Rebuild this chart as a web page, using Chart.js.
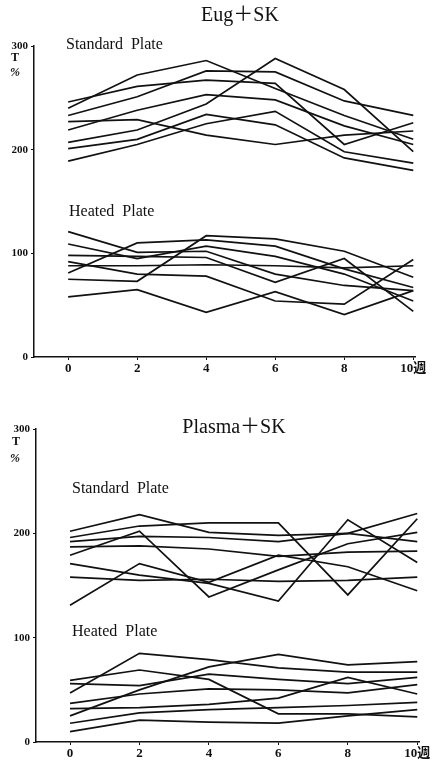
<!doctype html>
<html lang="ja">
    <head>
        <meta charset="UTF-8" />
        <meta name="viewport" content="width=device-width, initial-scale=1.0" />
        <title>Eug+SK / Plasma+SK</title>
        <script src="https://cdn.jsdelivr.net/npm/chart.js"></script>
        <style>
            body {
                margin: 0;
                background: #fff;
            }
            .panel {
                position: absolute;
                left: 0;
                width: 437px;
                height: 380px;
            }
            #top {
                top: 0;
            }
            #bottom {
                top: 380px;
            }
        </style>
    </head>
    <body>
        <div class="panel" id="top">
            <canvas id="eugChart" width="437" height="380"></canvas>
        </div>
        <div class="panel" id="bottom">
            <canvas id="plasmaChart" width="437" height="380"></canvas>
        </div>

        <script>
            const weeks = [0, 2, 4, 6, 8, 10];
            const yTicks = [0, 100, 200, 300];

            // T% per week, one row per sample
            const eugStandard = [
                [240, 272, 286, 259, 233, 210],
                [246, 261, 267, 264, 205, 226],
                [233, 251, 276, 275, 247, 233],
                [219, 238, 253, 248, 223, 205],
                [227, 229, 214, 205, 214, 218],
                [207, 219, 244, 288, 258, 198],
                [201, 210, 234, 224, 192, 180],
                [189, 205, 225, 237, 198, 187],
            ];
            const eugHeated = [
                [121, 101, 102, 80, 69, 64],
                [109, 95, 107, 97, 80, 54],
                [98, 97, 96, 72, 95, 44],
                [88, 88, 89, 88, 86, 88],
                [81, 110, 113, 107, 85, 67],
                [75, 73, 117, 114, 102, 77],
                [92, 80, 78, 54, 51, 94],
                [58, 65, 43, 63, 41, 64],
            ];
            const plasmaStandard = [
                [202, 218, 201, 198, 200, 192],
                [196, 207, 210, 210, 141, 214],
                [192, 197, 196, 192, 200, 219],
                [187, 188, 185, 178, 182, 183],
                [179, 202, 139, 165, 190, 201],
                [171, 160, 152, 135, 213, 172],
                [158, 155, 156, 154, 155, 158],
                [131, 171, 153, 179, 168, 145],
            ];
            const plasmaHeated = [
                [25, 50, 72, 84, 74, 77],
                [47, 85, 79, 71, 67, 67],
                [59, 69, 60, 27, 27, 24],
                [56, 54, 65, 60, 56, 62],
                [37, 46, 51, 50, 47, 55],
                [32, 33, 36, 42, 62, 46],
                [18, 28, 31, 33, 35, 38],
                [10, 21, 19, 18, 25, 31],
            ];

            const SERIF =
                "'Liberation Serif', 'DejaVu Serif', 'Noto Sans CJK JP', serif";
            const INK = "#111";

            function toDatasets(groups) {
                return groups.flat().map((vals) => ({
                    data: vals.map((v, i) => ({ x: weeks[i], y: v })),
                    borderColor: INK,
                    borderWidth: 1.7,
                    pointRadius: 0,
                    tension: 0,
                    fill: false,
                }));
            }

            // free text (titles, plate names, axis unit)
            const textPlugin = {
                id: "texts",
                afterDraw(chart, args, opts) {
                    const ctx = chart.ctx;
                    ctx.save();
                    ctx.fillStyle = INK;
                    ctx.textBaseline = "middle";
                    opts.items.forEach((t) => {
                        ctx.font = t.font;
                        ctx.textAlign = t.align || "left";
                        ctx.fillText(t.text, t.x, t.y);
                    });
                    ctx.restore();
                },
            };

            function makeChart(id, groups, box, texts) {
                const ctx = document.getElementById(id).getContext("2d");
                return new Chart(ctx, {
                    type: "line",
                    data: { datasets: toDatasets(groups) },
                    plugins: [textPlugin],
                    options: {
                        responsive: false,
                        animation: false,
                        layout: {
                            padding: { top: box.top, right: box.right, left: 0, bottom: 0 },
                        },
                        plugins: {
                            legend: { display: false },
                            tooltip: { enabled: false },
                            texts: { items: texts },
                        },
                        scales: {
                            x: {
                                type: "linear",
                                min: box.xMin,
                                max: 10.05,
                                afterBuildTicks: (s) => {
                                    s.ticks = weeks.map((v) => ({ value: v }));
                                },
                                afterFit: (s) => {
                                    s.height = box.xHeight;
                                },
                                ticks: {
                                    callback: (v) => (v === 10 ? "10週" : v),
                                    font: { family: SERIF, size: 13, weight: "bold" },
                                    color: INK,
                                    padding: 1,
                                    maxRotation: 0,
                                    autoSkip: false,
                                },
                                grid: { drawOnChartArea: false, tickLength: 3, color: INK },
                                border: { color: INK, width: 1.5 },
                            },
                            y: {
                                min: 0,
                                max: 300,
                                afterBuildTicks: (s) => {
                                    s.ticks = yTicks.map((v) => ({ value: v }));
                                },
                                afterFit: (s) => {
                                    s.width = box.yWidth;
                                },
                                ticks: {
                                    font: { family: SERIF, size: 11, weight: "bold" },
                                    color: INK,
                                    padding: 3,
                                },
                                grid: { drawOnChartArea: false, tickLength: 3, color: INK },
                                border: { color: INK, width: 1.5 },
                            },
                        },
                    },
                });
            }

            makeChart(
                "eugChart",
                [eugStandard, eugHeated],
                { top: 46, right: 22, yWidth: 34, xHeight: 23, xMin: -0.99 },
                [
                    { text: "Eug＋SK", x: 240, y: 16, font: "20px " + SERIF, align: "center" },
                    { text: "Standard  Plate", x: 66, y: 45, font: "16px " + SERIF },
                    { text: "Heated  Plate", x: 69, y: 212, font: "16px " + SERIF },
                    { text: "T", x: 15, y: 58, font: "bold 12px " + SERIF, align: "center" },
                    { text: "%", x: 15, y: 73, font: "italic bold 12px " + SERIF, align: "center" },
                ]
            );

            makeChart(
                "plasmaChart",
                [plasmaStandard, plasmaHeated],
                { top: 49, right: 18, yWidth: 36, xHeight: 18, xMin: -0.98 },
                [
                    { text: "Plasma＋SK", x: 234, y: 48, font: "20px " + SERIF, align: "center" },
                    { text: "Standard  Plate", x: 72, y: 109, font: "16px " + SERIF },
                    { text: "Heated  Plate", x: 72, y: 252, font: "16px " + SERIF },
                    { text: "T", x: 16, y: 62, font: "bold 12px " + SERIF, align: "center" },
                    { text: "%", x: 15, y: 79, font: "italic bold 12px " + SERIF, align: "center" },
                ]
            );
        </script>
    </body>
</html>
